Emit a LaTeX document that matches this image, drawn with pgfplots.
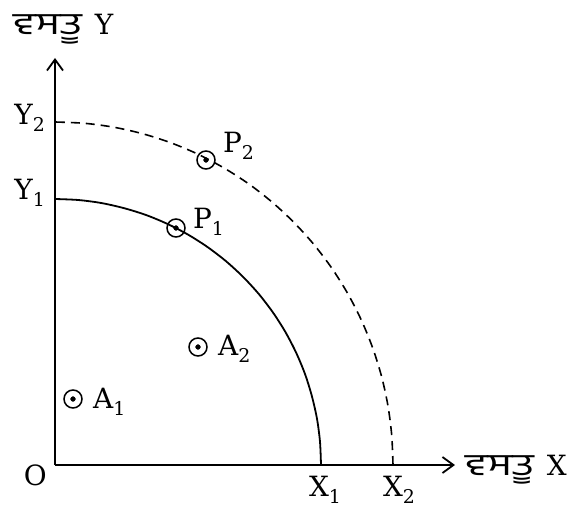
\documentclass[border=0pt]{standalone}
\usepackage{fontspec}
\usepackage{pgfplots}
\pgfplotsset{compat=1.18}
\usetikzlibrary{arrows.meta}
\newfontfamily\gurfont[Script=Gurmukhi, FakeStretch=1.4]{Hind Jalandhar}
\newfontfamily\labfont{DejaVu Serif}
\newcommand\sub[1]{\raisebox{-7bp}{\fontsize{19}{19}\selectfont #1}}

% pixel-like units: origin of the diagram at (55,465) in the 570x507 reference
\pgfplotstableread{
x y
266 0
265.0 23.2
262.0 46.2
256.9 68.8
250.0 91.0
241.1 112.4
230.4 133.0
217.9 152.6
203.8 171.0
188.1 188.1
171.0 203.8
152.6 217.9
133.0 230.4
112.4 241.1
91.0 250.0
68.8 256.9
46.2 262.0
23.2 265.0
0 266
}\ppcone
\pgfplotstableread{
x y
338 0
336.7 29.9
332.9 59.5
326.5 88.8
317.6 117.3
306.3 145.0
292.7 171.5
276.9 196.7
258.9 220.5
239.0 242.5
217.3 262.7
193.9 281.0
169.0 297.0
142.8 310.9
115.6 322.3
87.5 331.3
58.7 337.8
29.5 341.7
0 343
}\ppctwo
\pgfplotstableread{
x y
121 237
151 305
18 66
143 118
}\pts

\tikzset{lab/.style={font=\labfont\fontsize{28}{32}\selectfont, inner sep=0pt}}

\begin{document}
\begin{tikzpicture}
\begin{axis}[
  scale only axis,
  width=400bp, height=407bp,
  xmin=0, xmax=400, ymin=0, ymax=407,
  axis lines=left,
  axis line style={line width=2bp, -{Straight Barb[length=11bp,width=16bp,line width=1.8bp]}},
  xtick=\empty, ytick=\empty,
  clip=false,
]
\path (axis cs:-55,-42) rectangle (axis cs:515,465);
\addplot[black, line width=1.8bp, smooth, no marks] table {\ppcone};
\addplot[black, line width=1.6bp, smooth, no marks, dash pattern=on 9bp off 6bp] table {\ppctwo};
\addplot[only marks, mark=o, mark size=9bp, mark options={line width=1.5bp, fill=white, draw=black}] table {\pts};
\addplot[only marks, mark=*, mark size=2.4bp, black] table {\pts};

\node[lab, anchor=base east] at (axis cs:-10,266) {Y\sub{1}};
\node[lab, anchor=base east] at (axis cs:-10,340) {Y\sub{2}};
\node[lab, anchor=base] at (axis cs:270,-31) {X\sub{1}};
\node[lab, anchor=base] at (axis cs:344,-31) {X\sub{2}};
\node[lab, anchor=base east] at (axis cs:-8,-20) {O};
\node[lab, anchor=base west] at (axis cs:138,237) {P\sub{1}};
\node[lab, anchor=base west] at (axis cs:168,312) {P\sub{2}};
\node[lab, anchor=base west] at (axis cs:38,57) {A\sub{1}};
\node[lab, anchor=base west] at (axis cs:163,110) {A\sub{2}};
\node[lab, anchor=base west] at (axis cs:-42,430) {{\gurfont\fontsize{31}{34}\selectfont ਵਸਤੂ}\hspace{13bp}Y};
\node[lab, anchor=base west] at (axis cs:410,-10) {{\gurfont\fontsize{31}{34}\selectfont ਵਸਤੂ}\hspace{13bp}X};
\end{axis}
\end{tikzpicture}
\end{document}
